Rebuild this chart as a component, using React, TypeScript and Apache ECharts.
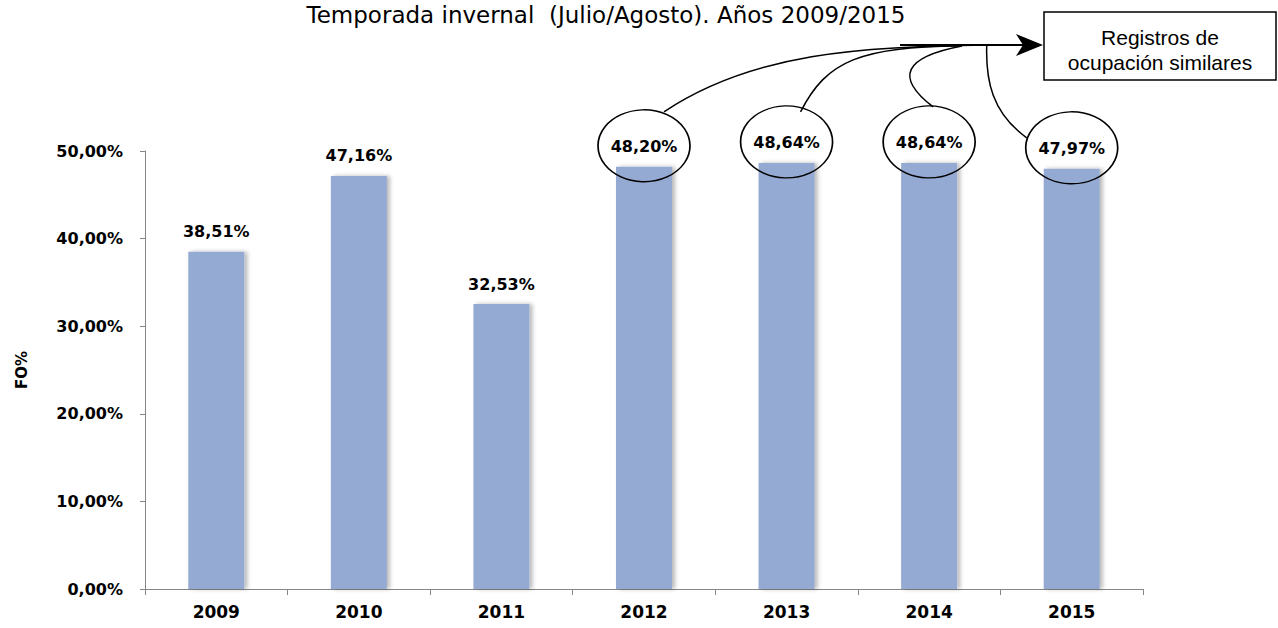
import React, { useEffect, useRef } from "react";
import * as echarts from "echarts";

const years = ["2009", "2010", "2011", "2012", "2013", "2014", "2015"];
const occupancy = [38.51, 47.16, 32.53, 48.2, 48.64, 48.64, 47.97];
const circled = [null, null, null, 48.2, 48.64, 48.64, 47.97];
const yTicks = [0, 10, 20, 30, 40, 50];
const titleText = "Temporada invernal  (Julio/Agosto). Años 2009/2015";
const boxLines = ["Registros de", "ocupación similares"];
const yName = "FO%";

const fmt = (v: number) => v.toFixed(2).replace(".", ",") + "%";
const FONT = "DejaVu Sans, Verdana, sans-serif";

export default function App() {
  const ref = useRef<HTMLDivElement>(null);
  useEffect(() => {
    document.body.style.margin = "0";
    const chart = echarts.init(ref.current!, null, { renderer: "svg" });
    chart.setOption({
      animation: false,
      backgroundColor: "#fff",
      grid: { left: 145, right: 135, top: 151, bottom: 39, containLabel: false },
      xAxis: {
        type: "category",
        data: years,
        axisLine: { lineStyle: { color: "#868686", width: 1 } },
        axisTick: { show: true, length: 6, lineStyle: { color: "#868686" } },
        axisLabel: { margin: 14, color: "#000", fontFamily: FONT, fontWeight: "bold", fontSize: 17 },
      },
      yAxis: {
        type: "value",
        min: yTicks[0],
        max: yTicks[yTicks.length - 1],
        interval: 10,
        name: yName,
        nameLocation: "middle",
        nameGap: 116,
        nameRotate: 90,
        nameTextStyle: { color: "#000", fontFamily: FONT, fontWeight: "bold", fontSize: 15 },
        axisLine: { show: true, lineStyle: { color: "#868686", width: 1 } },
        axisTick: { show: true, length: 5, lineStyle: { color: "#868686" } },
        splitLine: { show: false },
        axisLabel: {
          margin: 22,
          color: "#000",
          fontFamily: FONT,
          fontWeight: "bold",
          fontSize: 16,
          formatter: (v: number) => fmt(v),
        },
      },
      series: [
        {
          type: "bar",
          data: occupancy,
          barWidth: 56,
          itemStyle: {
            color: "#95AAD2",
            shadowColor: "rgba(0,0,0,0.28)",
            shadowBlur: 4,
            shadowOffsetX: 3,
            shadowOffsetY: 0,
          },
          label: {
            show: true,
            position: "top",
            distance: 12,
            color: "#000",
            fontFamily: FONT,
            fontWeight: "bold",
            fontSize: 16,
            formatter: (p: any) => fmt(p.value),
          },
          z: 2,
        },
        {
          type: "scatter",
          data: circled,
          symbol: "circle",
          symbolSize: [92, 72],
          symbolOffset: [0, -21],
          silent: true,
          itemStyle: { color: "rgba(0,0,0,0)", borderColor: "#000", borderWidth: 1.5, opacity: 1 },
          z: 3,
        },
      ],
    });

    const center = (i: number) => {
      const p = chart.convertToPixel({ seriesIndex: 0 }, [i, occupancy[i]]) as number[];
      return [p[0], p[1] - 21];
    };
    const c3 = center(3), c4 = center(4), c5 = center(5), c6 = center(6);
    const lineStyle = { stroke: "#000", lineWidth: 1.5, fill: "none" };
    const ay = 45;
    const boxFont = "21px 'Liberation Sans', Arial, sans-serif";
    chart.setOption({
      graphic: [
        {
          type: "text",
          x: 606,
          y: 15,
          style: { text: titleText, font: `23px ${FONT}`, fill: "#000", textAlign: "center", textVerticalAlign: "middle" },
        },
        {
          type: "bezierCurve",
          shape: { x1: c3[0] + 20, y1: c3[1] - 34, cpx1: c3[0] + 105, cpy1: ay + 10, cpx2: c3[0] + 210, cpy2: ay - 1, x2: 1020, y2: ay },
          style: lineStyle,
        },
        {
          type: "bezierCurve",
          shape: { x1: c4[0] + 14, y1: c4[1] - 30, cpx1: c4[0] + 40, cpy1: ay + 15, cpx2: c4[0] + 75, cpy2: ay + 2, x2: 960, y2: ay + 1 },
          style: lineStyle,
        },
        {
          type: "bezierCurve",
          shape: { x1: c5[0] + 4, y1: c5[1] - 35, cpx1: c5[0] - 35, cpy1: ay + 32, cpx2: c5[0] - 25, cpy2: ay + 12, x2: 962, y2: ay + 1 },
          style: lineStyle,
        },
        {
          type: "bezierCurve",
          shape: { x1: c6[0] - 45, y1: c6[1] - 10, cpx1: c6[0] - 80, cpy1: c6[1] - 35, cpx2: c6[0] - 86, cpy2: ay + 35, x2: c6[0] - 85, y2: ay + 1 },
          style: lineStyle,
        },
        {
          type: "line",
          shape: { x1: 900, y1: ay, x2: 1024, y2: ay },
          style: { stroke: "#000", lineWidth: 2 },
        },
        {
          type: "polygon",
          shape: { points: [[1043, ay], [1016, ay - 11], [1023, ay], [1016, ay + 11]] },
          style: { fill: "#000" },
        },
        {
          type: "rect",
          shape: { x: 1044, y: 12, width: 232, height: 68 },
          style: { fill: "#fff", stroke: "#000", lineWidth: 1.5 },
        },
        {
          type: "text",
          x: 1160,
          y: 37,
          style: { text: boxLines[0], font: boxFont, fill: "#000", textAlign: "center", textVerticalAlign: "middle" },
        },
        {
          type: "text",
          x: 1160,
          y: 62,
          style: { text: boxLines[1], font: boxFont, fill: "#000", textAlign: "center", textVerticalAlign: "middle" },
        },
      ],
    });
    return () => chart.dispose();
  }, []);
  return <div ref={ref} style={{ width: 1278, height: 628 }} />;
}
